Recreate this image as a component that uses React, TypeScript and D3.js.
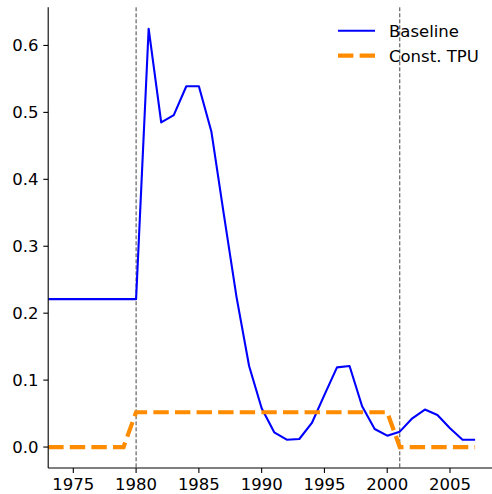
import React from 'react';
import * as d3 from 'd3';

const years = d3.range(1973, 2008);

const baseline = [
  0.221, 0.221, 0.221, 0.221, 0.221, 0.221, 0.221, 0.221, // 1973-1980
  0.625, 0.485, 0.496, 0.539, 0.539, 0.471, 0.346, 0.224, 0.121, 0.058, // 1981-1990
  0.022, 0.011, 0.012, 0.036, 0.078, 0.119, 0.121, 0.061, 0.027, 0.017, // 1991-2000
  0.023, 0.043, 0.056, 0.048, 0.028, 0.011, 0.011, // 2001-2007
];

const constTpu = [
  0, 0, 0, 0, 0, 0, 0, // 1973-1979
  0.052, 0.052, 0.052, 0.052, 0.052, 0.052, 0.052, 0.052, 0.052, 0.052, 0.052,
  0.052, 0.052, 0.052, 0.052, 0.052, 0.052, 0.052, 0.052, 0.052, 0.052, // 1980-2000
  0, 0, 0, 0, 0, 0, 0, // 2001-2007
];

const xTicks = [1975, 1980, 1985, 1990, 1995, 2000, 2005];
const yTicks = [0, 0.1, 0.2, 0.3, 0.4, 0.5, 0.6];
const eventYears = [1980, 2001];
const legendLabels = ['Baseline', 'Const. TPU'];

const WIDTH = 492;
const HEIGHT = 494;
const FONT = 'DejaVu Sans, sans-serif';
const FS = 16.5;

const App: React.FC = () => {
  const x = d3.scaleLinear().domain([1973, 2005]).range([48.2, 450]);
  const y = d3.scaleLinear().domain([-0.0313, 0.657]).range([468, 7.3]);
  const left = x(1973);
  const right = WIDTH;
  const top = y(0.657);
  const bottom = y(-0.0313);

  const line = d3.line<number>()
    .x((_, i) => x(years[i]))
    .y(d => y(d));

  return (
    <svg
      width={WIDTH}
      height={HEIGHT}
      style={{ position: 'absolute', left: 0, top: 0, background: '#fff' }}
      fontFamily={FONT}
    >
      <defs>
        <clipPath id="plot">
          <rect x={left} y={top} width={right - left} height={bottom - top} />
        </clipPath>
      </defs>

      {/* Event markers */}
      {eventYears.map(yr => (
        <line
          key={`ev-${yr}`}
          x1={x(yr)}
          x2={x(yr)}
          y1={top}
          y2={bottom}
          stroke="#444"
          strokeWidth={1}
          strokeDasharray="4,2"
        />
      ))}

      <g clipPath="url(#plot)">
        <path d={line(baseline) || ''} fill="none" stroke="#0000ff" strokeWidth={2.1} strokeLinejoin="round" />
        <path d={line(constTpu) || ''} fill="none" stroke="#ff8c00" strokeWidth={4.2} strokeDasharray="15.4,6.2" />
      </g>

      {/* Spines */}
      <line x1={left} x2={left} y1={top} y2={bottom} stroke="#000" strokeWidth={1.1} />
      <line x1={left} x2={right} y1={bottom} y2={bottom} stroke="#000" strokeWidth={1.1} />

      {/* X ticks */}
      {xTicks.map(t => (
        <g key={`x-${t}`} transform={`translate(${x(t)}, ${bottom})`}>
          <line y2={4.9} stroke="#000" strokeWidth={1.1} />
          <text y={9.8} dy="0.76em" textAnchor="middle" fontSize={FS} fill="#000">{t}</text>
        </g>
      ))}

      {/* Y ticks */}
      {yTicks.map(t => (
        <g key={`y-${t}`} transform={`translate(${left}, ${y(t)})`}>
          <line x2={-4.9} stroke="#000" strokeWidth={1.1} />
          <text x={-9.8} dy="0.36em" textAnchor="end" fontSize={FS} fill="#000">{t.toFixed(1)}</text>
        </g>
      ))}

      {/* Legend */}
      <g transform="translate(338, 30.7)">
        <line x1={0} x2={37} y1={0} y2={0} stroke="#0000ff" strokeWidth={2.1} />
        <text x={51} dy="0.36em" fontSize={FS} fill="#000">{legendLabels[0]}</text>
        <line x1={0} x2={37} y1={25} y2={25} stroke="#ff8c00" strokeWidth={4.2} strokeDasharray="15.4,6.2" />
        <text x={51} y={25} dy="0.36em" fontSize={FS} fill="#000">{legendLabels[1]}</text>
      </g>
    </svg>
  );
};

export default App;
